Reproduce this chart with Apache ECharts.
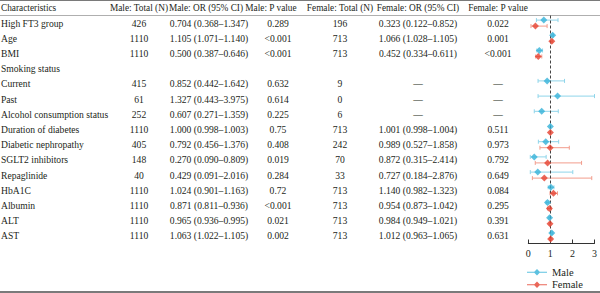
<!DOCTYPE html>
<html>
<head>
<meta charset="utf-8">
<script src="https://cdn.jsdelivr.net/npm/echarts@6/dist/echarts.min.js"></script>
<style>
html,body{margin:0;padding:0;background:#fff;}
#chart{width:600px;height:293px;}
</style>
</head>
<body>
<div id="chart"></div>
<script>
// ---------- data ----------
const headers = ['Characteristics','Male: Total (N)','Male: OR (95% CI)','Male: P value','Female: Total (N)','Female: OR (95% CI)','Female: P value'];
const rows = ['High FT3 group','Age','BMI','Smoking status','Current','Past','Alcohol consumption status','Duration of diabetes','Diabetic nephropathy','SGLT2 inhibitors','Repaglinide','HbA1C','Albumin','ALT','AST'];
const maleN = ['426','1110','1110','','415','61','252','1110','405','148','40','1110','1110','1110','1110'];
const maleOR = [0.704,1.105,0.500,null,0.852,1.327,0.607,1.000,0.792,0.270,0.429,1.024,0.871,0.965,1.063];
const maleLo = [0.368,1.071,0.387,null,0.442,0.443,0.271,0.998,0.456,0.090,0.091,0.901,0.811,0.936,1.022];
const maleHi = [1.347,1.140,0.646,null,1.642,3.975,1.359,1.003,1.376,0.809,2.016,1.163,0.936,0.995,1.105];
const maleP = ['0.289','<0.001','<0.001','','0.632','0.614','0.225','0.75','0.408','0.019','0.284','0.72','<0.001','0.021','0.002'];
const femaleN = ['196','713','713','','9','0','6','713','242','70','33','713','713','713','713'];
const femaleOR = [0.323,1.066,0.452,null,null,null,null,1.001,0.989,0.872,0.727,1.140,0.954,0.984,1.012];
const femaleLo = [0.122,1.028,0.334,null,null,null,null,0.998,0.527,0.315,0.184,0.982,0.873,0.949,0.963];
const femaleHi = [0.852,1.105,0.611,null,null,null,null,1.004,1.858,2.414,2.876,1.323,1.042,1.021,1.065];
const femaleP = ['0.022','0.001','<0.001','','—','—','—','0.511','0.973','0.792','0.649','0.084','0.295','0.391','0.631'];
const xTicks = [0,1,2,3];

// ---------- style / layout ----------
const FONT = '"Liberation Serif","Times New Roman",serif';
const FS = 9.6;
const HFS = 9.3;
const TXT = '#231f20';
const MALE = '#34b2d8', MALE_CI = '#8fd5ea';
const FEMALE = '#e5412f', FEMALE_CI = '#f29c8c';
const COLX = [1, 139, 209, 278, 340, 418, 498];      // value column centres
const HEADX = [1, 139, 206, 271, 340, 418, 498];     // header centres
const GRID_TOP = 15.5, GRID_H = 228;

function fmtOR(o, l, h, s) {
  if (o == null) return s === '' ? '' : '—';
  return o.toFixed(3) + ' (' + l.toFixed(3) + '–' + h.toFixed(3) + ')';
}
const mOrTxt = rows.map((_, i) => fmtOR(maleOR[i], maleLo[i], maleHi[i], maleN[i]));
const fOrTxt = rows.map((_, i) => fmtOR(femaleOR[i], femaleLo[i], femaleHi[i], femaleN[i]));
const tableCols = [rows, maleN, mOrTxt, maleP, femaleN, fOrTxt, femaleP];

const maleCI = [], femaleCI = [], malePts = [], femalePts = [];
rows.forEach((_, i) => {
  if (maleOR[i] != null) { maleCI.push([maleLo[i], maleHi[i], i]); malePts.push([maleOR[i], i]); }
  if (femaleOR[i] != null) { femaleCI.push([femaleLo[i], femaleHi[i], i]); femalePts.push([femaleOR[i], i]); }
});

function ciRender(color, dy) {
  return function (params, api) {
    const xMax = 3;
    const lo = api.value(0), hi = Math.min(api.value(1), xMax), r = api.value(2);
    const p1 = api.coord([lo, r]), p2 = api.coord([hi, r]);
    const y = p1[1] + dy;
    const st = { stroke: color, lineWidth: 1 };
    return { type: 'group', children: [
      { type: 'line', shape: { x1: p1[0], y1: y, x2: p2[0], y2: y }, style: st },
      { type: 'line', shape: { x1: p1[0], y1: y - 2, x2: p1[0], y2: y + 2 }, style: st },
      { type: 'line', shape: { x1: p2[0], y1: y - 2, x2: p2[0], y2: y + 2 }, style: st }
    ]};
  };
}

function tableRender(params, api) {
  const r = api.value(1);
  const children = [];
  tableCols.forEach((col, c) => {
    const t = col[r];
    if (!t) return;
    const p = api.coord([COLX[c], r]);
    children.push({ type: 'text', style: {
      text: t, x: p[0], y: p[1], align: c === 0 ? 'left' : 'center', verticalAlign: 'middle',
      fontSize: FS, fontFamily: FONT, fill: TXT } });
  });
  return { type: 'group', children };
}

const legendIcon = 'path://M0,3.5H20V4.5H0Z M10,0.8L13.2,4L10,7.2L6.8,4Z';

const chart = echarts.init(document.getElementById('chart'), null, { renderer: 'svg' });
chart.setOption({
  animation: false,
  backgroundColor: '#fff',
  grid: [
    { left: 528.3, width: 68.4, top: GRID_TOP, height: GRID_H },
    { left: 0, width: 600, top: GRID_TOP, height: GRID_H }
  ],
  xAxis: [
    { type: 'value', gridIndex: 0, min: 0, max: 3, interval: 1,
      axisLine: { show: true, lineStyle: { color: '#333', width: 1 } },
      axisTick: { show: true, inside: true, length: 4, lineStyle: { color: '#333' } },
      axisLabel: { show: true, margin: 5, fontSize: 10, fontFamily: FONT, color: TXT },
      splitLine: { show: false } },
    { type: 'value', gridIndex: 1, min: 0, max: 600, show: false }
  ],
  yAxis: [
    { type: 'category', gridIndex: 0, data: rows, inverse: true, show: false },
    { type: 'category', gridIndex: 1, data: rows, inverse: true, show: false }
  ],
  legend: {
    data: ['Male', 'Female'], orient: 'vertical', left: 527, top: 266, height: 40,
    padding: 0, itemWidth: 20, itemHeight: 8, itemGap: 0,
    textStyle: { fontSize: 10.5, fontFamily: FONT, color: TXT, lineHeight: 12.5 },
    icon: legendIcon
  },
  graphic: [
    { type: 'line', shape: { x1: 0, y1: 0.5, x2: 600, y2: 0.5 }, style: { stroke: '#7a7a7a', lineWidth: 1.2 } },
    { type: 'line', shape: { x1: 0, y1: GRID_TOP, x2: 600, y2: GRID_TOP }, style: { stroke: '#9a9a9a', lineWidth: 0.8 } },
    { type: 'line', shape: { x1: 0, y1: 292, x2: 600, y2: 292 }, style: { stroke: '#7a7a7a', lineWidth: 2 } }
  ].concat(headers.map((h, c) => ({
    type: 'text', style: { text: h, x: HEADX[c], y: 8, align: c === 0 ? 'left' : 'center', verticalAlign: 'middle',
      fontSize: HFS, fontFamily: FONT, fill: TXT }
  }))),
  series: [
    { name: 'Male', type: 'scatter', xAxisIndex: 0, yAxisIndex: 0, data: malePts, symbol: 'diamond',
      symbolSize: 7, symbolOffset: [0, -3], itemStyle: { color: MALE }, z: 5,
      markLine: { silent: true, symbol: 'none', label: { show: false },
        lineStyle: { color: '#444', type: [3, 2], width: 1 }, data: [{ xAxis: 1 }] } },
    { name: 'Female', type: 'scatter', xAxisIndex: 0, yAxisIndex: 0, data: femalePts, symbol: 'diamond',
      symbolSize: 7, symbolOffset: [0, 3], itemStyle: { color: FEMALE }, z: 5 },
    { name: 'Male CI', type: 'custom', xAxisIndex: 0, yAxisIndex: 0, data: maleCI,
      renderItem: ciRender(MALE_CI, -3), encode: { x: [0, 1], y: 2 }, clip: false, z: 3 },
    { name: 'Female CI', type: 'custom', xAxisIndex: 0, yAxisIndex: 0, data: femaleCI,
      renderItem: ciRender(FEMALE_CI, 3), encode: { x: [0, 1], y: 2 }, clip: false, z: 3 },
    { name: 'table', type: 'custom', xAxisIndex: 1, yAxisIndex: 1,
      data: rows.map((_, i) => [0, i]), encode: { x: 0, y: 1 }, renderItem: tableRender, clip: false, silent: true }
  ]
});
</script>
</body>
</html>
